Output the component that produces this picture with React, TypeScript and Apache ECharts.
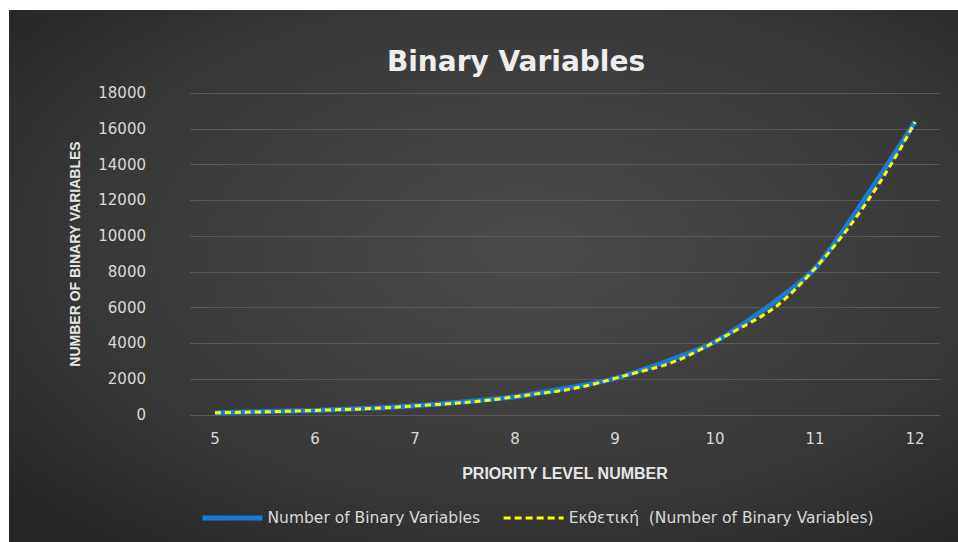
import React, { useEffect, useRef } from "react";
import * as echarts from "echarts";

// Priority levels on the x axis
const priorityLevels = [5, 6, 7, 8, 9, 10, 11, 12];
// Number of binary variables per priority level
const binaryVariables = [128, 256, 512, 1024, 2048, 4096, 8192, 16384];
// Exponential trendline values at the same levels
const exponentialTrend = [128, 256, 512, 1024, 2048, 4096, 8192, 16384];

const yTicks = { min: 0, max: 18000, step: 2000 };

const seriesNames = [
  "Number of Binary Variables",
  "Εκθετική  (Number of Binary Variables)",
];

const labelFont = "'DejaVu Sans', 'Open Sans', sans-serif";
const nameFont = "'Liberation Sans Narrow', 'Liberation Sans', sans-serif";

export default function App() {
  const ref = useRef<HTMLDivElement>(null);

  useEffect(() => {
    if (!ref.current) return;
    const chart = echarts.init(ref.current, undefined, { renderer: "svg" });

    const mainPoints = priorityLevels.map((x, i) => [x, binaryVariables[i]]);
    const trendPoints = priorityLevels.map((x, i) => [x, exponentialTrend[i]]);

    chart.setOption({
      animation: false,
      backgroundColor: "#ffffff",
      graphic: [
        {
          type: "rect",
          z: -10,
          silent: true,
          shape: { x: 9, y: 10, width: 949, height: 532 },
          style: {
            fill: new echarts.graphic.RadialGradient(0.55, 0.45, 0.75, [
              { offset: 0, color: "#4a4a4a" },
              { offset: 0.6, color: "#393939" },
              { offset: 1, color: "#242424" },
            ]),
          },
        },
      ],
      title: {
        text: "Binary Variables",
        left: 511,
        textAlign: "center",
        top: 42,
        textStyle: {
          color: "#eeeeee",
          fontFamily: "'DejaVu Sans', sans-serif",
          fontWeight: "bold",
          fontSize: 28,
        },
      },
      grid: { left: 190, right: 18, top: 93, bottom: 127 },
      xAxis: {
        type: "value",
        min: 4.75,
        max: 12.25,
        interval: 0.25,
        name: "PRIORITY LEVEL NUMBER",
        nameLocation: "middle",
        nameGap: 50,
        nameTextStyle: {
          color: "#e6e6e6",
          fontFamily: nameFont,
          fontWeight: "bold",
          fontSize: 16,
        },
        axisLine: { show: false },
        axisTick: { show: false },
        splitLine: { show: false },
        axisLabel: {
          margin: 16,
          color: "#d9d9d9",
          fontFamily: labelFont,
          fontSize: 15,
          formatter: (v: number) => (Number.isInteger(v) ? String(v) : ""),
        },
      },
      yAxis: {
        type: "value",
        min: yTicks.min,
        max: yTicks.max,
        interval: yTicks.step,
        name: "NUMBER OF BINARY VARIABLES",
        nameLocation: "middle",
        nameGap: 108,
        nameTextStyle: {
          color: "#e6e6e6",
          fontFamily: nameFont,
          fontWeight: "bold",
          fontSize: 14,
        },
        axisLine: { show: false },
        axisTick: { show: false },
        splitLine: { lineStyle: { color: "#595959", width: 1 } },
        axisLabel: {
          margin: 44,
          color: "#d9d9d9",
          fontFamily: labelFont,
          fontSize: 15,
          formatter: (v: number) => String(v),
        },
      },
      legend: {
        bottom: 11,
        left: 195,
        itemWidth: 60,
        itemHeight: 12,
        itemGap: 22,
        itemStyle: { opacity: 0 },
        textStyle: {
          color: "#d9d9d9",
          fontFamily: labelFont,
          fontSize: 15.5,
        },
        data: [
          { name: seriesNames[0], lineStyle: { width: 5 } },
          { name: seriesNames[1], lineStyle: { width: 3, type: [7, 4] } },
        ],
      },
      series: [
        {
          name: seriesNames[0],
          type: "line",
          data: mainPoints,
          smooth: 0.2,
          symbol: "none",
          lineStyle: { color: "#1a7bd4", width: 5 },
          itemStyle: { color: "#1a7bd4" },
          z: 2,
        },
        {
          name: seriesNames[1],
          type: "line",
          data: trendPoints,
          smooth: 0.5,
          symbol: "none",
          lineStyle: { color: "#ffff00", width: 3, type: [6, 4] },
          itemStyle: { color: "#ffff00" },
          z: 3,
        },
      ],
    });

    return () => chart.dispose();
  }, []);

  return (
    <div
      style={{
        position: "absolute",
        left: 0,
        top: 0,
        width: 958,
        height: 542,
        background: "#ffffff",
      }}
    >
      <div ref={ref} style={{ width: 958, height: 542 }} />
    </div>
  );
}
